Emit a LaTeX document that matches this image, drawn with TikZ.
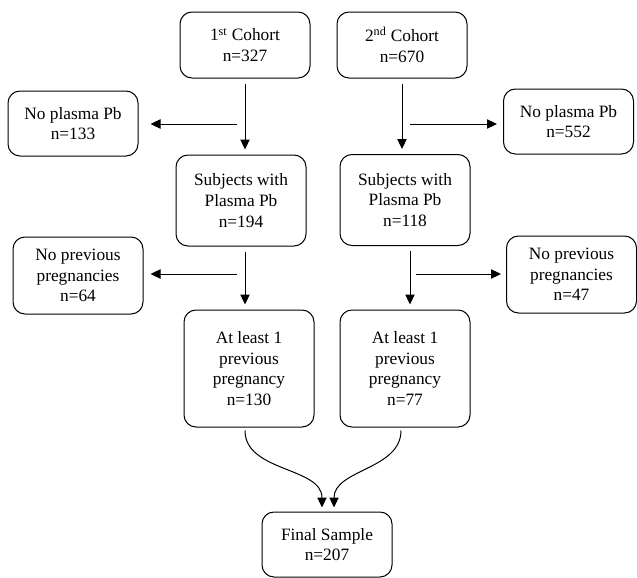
\documentclass[tikz,border=0pt]{standalone}
\usepackage{fontspec}
\setmainfont{Liberation Serif}
\usetikzlibrary{arrows.meta}
\begin{document}
\begin{tikzpicture}[x=0.75pt, y=-0.75pt,
  box/.style={draw, line width=0.75pt, rounded corners=9pt, align=center,
              minimum width=97.5pt, inner sep=0pt,
              font=\rmfamily\fontsize{13}{15.5}\selectfont},
  arr/.style={-{Triangle[length=7.5pt,width=7pt]}, line width=0.75pt,
              shorten <=3.75pt, shorten >=3.75pt}]
  \useasboundingbox (0,0) rectangle (637,578);
  % cohorts
  \node[box, minimum height=49.5pt] (coh1) at (245,45) {1\textsuperscript{st} Cohort\\n=327};
  \node[box, minimum height=49.5pt] (coh2) at (402,45) {2\textsuperscript{nd} Cohort\\n=670};
  % plasma Pb
  \node[box, minimum height=48.75pt] (nopb1) at (73,123.5) {No plasma Pb\\n=133};
  \node[box, minimum height=48.75pt] (nopb2) at (568.5,121.5) {No plasma Pb\\n=552};
  \node[box, minimum height=68.25pt] (sub1) at (241,200.5) {Subjects with\\Plasma Pb\\n=194};
  \node[box, minimum height=68.25pt] (sub2) at (405,200) {Subjects with\\Plasma Pb\\n=118};
  % pregnancies
  \node[box, minimum height=57.75pt] (noprev1) at (78,275.5) {No previous\\pregnancies\\n=64};
  \node[box, minimum height=57.75pt] (noprev2) at (571.5,274.5) {No previous\\pregnancies\\n=47};
  \node[box, minimum height=87.75pt] (al1) at (249,368.5) {At least 1\\previous\\pregnancy\\n=130};
  \node[box, minimum height=87.75pt] (al2) at (405,368.5) {At least 1\\previous\\pregnancy\\n=77};
  % final
  \node[box, minimum height=48.75pt] (fin) at (327,544.5) {Final Sample\\n=207};
  \coordinate (j1) at (237,124);
  \coordinate (j2) at (410,124);
  \coordinate (j3) at (237,274);
  \coordinate (j4) at (416,274);
  \draw[arr] (coh1.south) -- (coh1.south |- sub1.north);
  \draw[arr] (coh2.south) -- (coh2.south |- sub2.north);
  \draw[arr, shorten <=0pt, shorten >=9pt] (j1) -- (j1 -| nopb1.east);
  \draw[arr, shorten <=0pt, shorten >=4.5pt] (j2) -- (j2 -| nopb2.west);
  \draw[arr] ([xshift=3pt]sub1.south) -- ([xshift=3pt]sub1.south |- al1.north);
  \draw[arr] ([xshift=3.75pt]sub2.south) -- ([xshift=3.75pt]sub2.south |- al2.north);
  \draw[arr, shorten <=0pt, shorten >=5.25pt] (j3) -- (j3 -| noprev1.east);
  \draw[arr, shorten <=0pt, shorten >=3.75pt] (j4) -- (j4 -| noprev2.west);
  \draw[arr, shorten <=2.25pt, shorten >=3pt] ([xshift=-3pt]al1.south) to[out=-90, in=90] ([xshift=-3.75pt]fin.north);
  \draw[arr, shorten <=2.25pt, shorten >=3pt] ([xshift=-3pt]al2.south) to[out=-90, in=90] ([xshift=5.25pt]fin.north);
\end{tikzpicture}
\end{document}
